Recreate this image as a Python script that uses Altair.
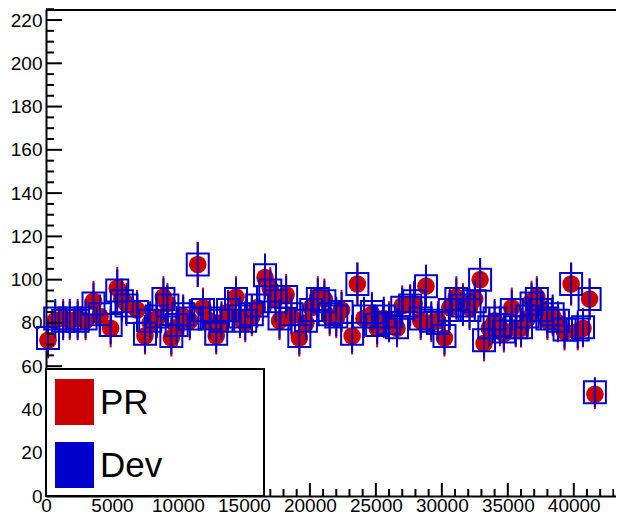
import altair as alt
import pandas as pd

# ---- data ----
x_vals = [150, 700, 1300, 1800, 2400, 3000, 3600, 4100, 4900, 5400,
          5750, 6100, 6900, 7500, 7900, 8400, 8900, 9200, 9500, 9900,
          10400, 10900, 11500, 11900, 12400, 12900, 13300, 13800, 14400, 14700,
          15100, 15600, 16000, 16600, 17000, 17400, 17700, 18200, 18600, 19200,
          19700, 20100, 20600, 21100, 21500, 22000, 22400, 23200, 23600, 24100,
          24700, 25100, 25600, 26000, 26600, 27000, 27600, 27900, 28400, 28800,
          29200, 29700, 30200, 30600, 31100, 31600, 32100, 32500, 32900, 33200,
          33600, 34000, 34400, 34700, 35300, 35600, 36000, 36500, 36800, 37200,
          37500, 38000, 38400, 38800, 39300, 39800, 40300, 40700, 41200, 41600]

pr_vals = [72, 81, 82, 81, 82, 81, 90, 83, 77.5, 96,
           91, 89, 86, 74, 80, 82, 92, 89, 73, 78,
           83, 81, 107, 87, 81, 74, 80, 85, 92, 82,
           80, 83, 87, 101, 96, 91, 81, 93, 83, 73,
           80, 87, 92, 91, 83, 82, 86, 74, 98, 82,
           84, 77.5, 82, 81, 77.5, 88, 88.5, 89, 81, 97,
           80, 81, 73, 87, 92, 89, 87, 91, 100, 70.6,
           77.5, 81, 78, 75, 87, 77.5, 77.5, 82, 90, 92,
           87, 81, 83, 80, 76, 98, 76, 77.5, 91, 47]

dev_vals = [73, 82, 81, 82, 81, 82, 89, 84, 79, 95,
            90, 88, 85, 75, 81, 83, 91, 88, 74, 79,
            84, 82, 107, 86, 82, 75, 81, 86, 91, 83,
            81, 84, 88, 102, 95, 90, 82, 92, 84, 74,
            81, 86, 91, 90, 84, 83, 85, 75, 98, 83,
            85, 79, 83, 80, 78, 87, 88, 90, 82, 97,
            81, 80, 74, 86, 91, 88, 86, 90, 100, 72,
            78, 82, 79, 76, 86, 78, 78, 83, 89, 91,
            86, 82, 84, 81, 77, 98, 77, 78, 91, 48]

x_major = [0, 5000, 10000, 15000, 20000, 25000, 30000, 35000, 40000]
x_minor = [v for v in range(1000, 44000, 1000) if v % 5000 != 0]
y_major = [0, 20, 40, 60, 80, 100, 120, 140, 160, 180, 200, 220]
y_minor = [v for v in range(5, 226, 5) if v % 20 != 0]

legend_labels = ["PR", "Dev"]
legend_colors = ["#CC0000", "#0000CC"]

RED = "#CC0000"
BLUE = "#0000CC"
FONT = "Liberation Sans"
W, H = 570, 487

df = pd.DataFrame({"x": x_vals, "pr": pr_vals, "dev": dev_vals})

xs = alt.Scale(domain=[0, 43200], nice=False, zero=False)
ys = alt.Scale(domain=[0, 225.1], nice=False, zero=False)

x_axis = alt.Axis(values=x_major, ticks=False, tickSize=0, grid=False, domainColor="black",
                  domainWidth=2, labelFontSize=19, labelFont=FONT, labelColor="black",
                  labelPadding=0, title=None, format="d", labelFlush=False,
                  labelOverlap=False, orient="bottom")
y_axis = alt.Axis(values=y_major, ticks=False, tickSize=0, grid=False, domainColor="black",
                  domainWidth=2, labelFontSize=19, labelFont=FONT, labelColor="black",
                  labelPadding=4, title=None, format="d", labelFlush=False,
                  labelOverlap=False, orient="left")

X = lambda f: alt.X(f, scale=xs, axis=x_axis)
Y = lambda f: alt.Y(f, scale=ys, axis=y_axis)

base = alt.Chart(df)

pr_err = base.transform_calculate(
    lo="datum.pr - sqrt(datum.pr)", hi="datum.pr + sqrt(datum.pr)"
).mark_rule(color=RED, strokeWidth=2).encode(x=X("x:Q"), y=Y("lo:Q"), y2="hi:Q")
pr_pts = base.mark_circle(color=RED, size=310, opacity=1).encode(x=X("x:Q"), y=Y("pr:Q"))
dev_err = base.transform_calculate(
    lo="datum.dev - sqrt(datum.dev)", hi="datum.dev + sqrt(datum.dev)"
).mark_rule(color=BLUE, strokeWidth=2).encode(x=X("x:Q"), y=Y("lo:Q"), y2="hi:Q")
dev_pts = base.mark_point(shape="square", filled=False, color=BLUE, size=484,
                          strokeWidth=2, opacity=1).encode(x=X("x:Q"), y=Y("dev:Q"))

def xticks(vals, length):
    return alt.Chart(pd.DataFrame({"v": vals})).mark_rule(color="black", strokeWidth=2).encode(
        x=X("v:Q"), y=alt.value(H), y2=alt.value(H - length),
    )

def yticks(vals, length):
    return alt.Chart(pd.DataFrame({"v": vals})).mark_rule(color="black", strokeWidth=2).encode(
        y=Y("v:Q"), x=alt.value(0), x2=alt.value(length),
    )

one = pd.DataFrame({"a": [0]})

# white cover for the right edge of the frame (the reference frame is open there)
right_cover = alt.Chart(one).mark_rule(color="white", strokeWidth=4).encode(
    x=alt.value(W), y=alt.value(3), y2=alt.value(H - 2)
)

top_line = alt.Chart(one).mark_rule(color="black", strokeWidth=2).encode(
    x=alt.value(0), x2=alt.value(W), y=alt.value(1)
)

legend_box = alt.Chart(one).mark_rect(
    fill="white", stroke="black", strokeWidth=2
).encode(x=alt.value(0), x2=alt.value(218), y=alt.value(360), y2=alt.value(H))

legend_layers = [legend_box]
for i, (lab, col) in enumerate(zip(legend_labels, legend_colors)):
    ldf = pd.DataFrame({"label": [lab]})
    y0 = 370 + i * 63
    legend_layers.append(
        alt.Chart(ldf).mark_rect(fill=col).encode(
            x=alt.value(9), x2=alt.value(48), y=alt.value(y0), y2=alt.value(y0 + 46)
        )
    )
    legend_layers.append(
        alt.Chart(ldf).mark_text(align="left", baseline="alphabetic", fontSize=35,
                                 font=FONT, color="black").encode(
            x=alt.value(54), y=alt.value(y0 + 35), text="label:N"
        )
    )

chart = alt.layer(
    pr_err, pr_pts, dev_err, dev_pts,
    xticks(x_major, 13), xticks(x_minor, 7),
    yticks(y_major, 16), yticks(y_minor, 8),
    right_cover, top_line, *legend_layers,
).resolve_scale(x="shared", y="shared").resolve_axis(x="shared", y="shared").properties(
    width=W, height=H,
    padding={"left": 38, "top": 1, "right": 0, "bottom": 19},
    autosize="none",
    view=alt.ViewBackground(stroke="transparent", strokeWidth=0),
).configure(background="white").configure_view(stroke="transparent", strokeWidth=0)

chart.save("out.html", embed_options={"renderer": "svg", "actions": False})
